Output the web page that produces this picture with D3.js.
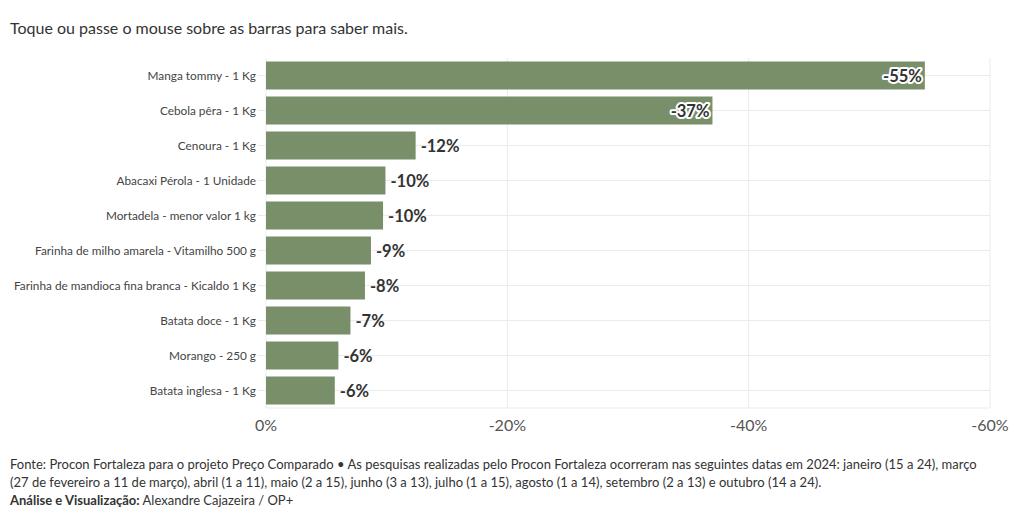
<!DOCTYPE html>
<html>
<head>
<meta charset="utf-8">
<script src="https://cdn.jsdelivr.net/npm/d3@7"></script>
<style>
  html, body { margin: 0; padding: 0; background: #fff; }
  svg { display: block; font-family: Lato, "Noto Sans", sans-serif; }
</style>
</head>
<body>
<svg id="chart" width="1020" height="520"></svg>
<script>
const categories = [
  "Manga tommy - 1 Kg",
  "Cebola pêra - 1 Kg",
  "Cenoura - 1 Kg",
  "Abacaxi Pérola - 1 Unidade",
  "Mortadela - menor valor 1 kg",
  "Farinha de milho amarela - Vitamilho 500 g",
  "Farinha de mandioca fina branca - Kicaldo 1 Kg",
  "Batata doce - 1 Kg",
  "Morango - 250 g",
  "Batata inglesa - 1 Kg"
];
const values = [-54.6, -37.0, -12.4, -9.9, -9.7, -8.7, -8.2, -7.0, -6.0, -5.7];
const tickValues = [0, -20, -40, -60];
const title = "Toque ou passe o mouse sobre as barras para saber mais.";
const footerLines = [
  "Fonte: Procon Fortaleza para o projeto Preço Comparado • As pesquisas realizadas pelo Procon Fortaleza ocorreram nas seguintes datas em 2024: janeiro (15 a 24), março",
  "(27 de fevereiro a 11 de março), abril (1 a 11), maio (2 a 15), junho (3 a 13), julho (1 a 15), agosto (1 a 14), setembro (2 a 13) e outubro (14 a 24)."
];
const creditBold = "Análise e Visualização:";
const creditText = " Alexandre Cajazeira / OP+";

(function () {
const svg = d3.select("#chart");
const mLeft = 266, mRight = 990, mTop = 58, mBottom = 408;

const x = d3.scaleLinear().domain([0, -60]).range([mLeft, mRight]);
const y = d3.scaleBand().domain(categories).range([mTop, mBottom]).paddingInner(0.2).paddingOuter(0.1);

svg.append("text").attr("x", 10).attr("y", 34)
  .attr("font-size", 16).attr("fill", "#333").text(title);

// gridlines
const grid = svg.append("g");
grid.selectAll("line.v").data(tickValues).join("line")
  .attr("x1", d => x(d)).attr("x2", d => x(d))
  .attr("y1", mTop).attr("y2", mBottom)
  .attr("stroke", "#ebebeb").attr("stroke-width", 1);
grid.selectAll("line.h").data(categories).join("line")
  .attr("x1", mLeft - 8).attr("x2", mRight)
  .attr("y1", d => y(d) + y.bandwidth() / 2).attr("y2", d => y(d) + y.bandwidth() / 2)
  .attr("stroke", "#ebebeb").attr("stroke-width", 1);
grid.append("line").attr("x1", mLeft).attr("x2", mRight).attr("y1", mBottom).attr("y2", mBottom)
  .attr("stroke", "#ebebeb");

// bars
svg.append("g").selectAll("rect").data(values).join("rect")
  .attr("x", x(0))
  .attr("y", (d, i) => y(categories[i]))
  .attr("width", d => x(d) - x(0))
  .attr("height", y.bandwidth())
  .attr("fill", "#798f69");

// category labels
svg.append("g").selectAll("text").data(categories).join("text")
  .attr("x", mLeft - 10)
  .attr("y", d => y(d) + y.bandwidth() / 2)
  .attr("dy", "0.35em")
  .attr("text-anchor", "end")
  .attr("font-size", 11.8)
  .attr("fill", "#444")
  .text(d => d);

// value labels
const fmt = d => Math.round(d) + "%";
const vl = svg.append("g");
values.forEach((d, i) => {
  const inside = d < -30;
  const t = vl.append("text")
    .attr("x", inside ? x(d) - 3 : x(d) + 5)
    .attr("y", y(categories[i]) + y.bandwidth() / 2 + 1)
    .attr("dy", "0.36em")
    .attr("text-anchor", inside ? "end" : "start")
    .attr("font-size", 16.5).attr("font-weight", "bold")
    .attr("fill", "#333")
    .text(fmt(d));
  if (inside) {
    t.attr("stroke", "#fff").attr("stroke-width", 4).attr("paint-order", "stroke").attr("stroke-linejoin", "round");
  }
});

// x axis labels
svg.append("g").selectAll("text").data(tickValues).join("text")
  .attr("x", d => x(d)).attr("y", 431)
  .attr("text-anchor", "middle")
  .attr("font-size", 16).attr("fill", "#555")
  .text(d => d + "%");

// footer
const foot = svg.append("g").attr("font-size", 13).attr("fill", "#333");
footerLines.forEach((l, i) => {
  foot.append("text").attr("x", 10).attr("y", 469 + i * 18).text(l);
});
const cr = foot.append("text").attr("x", 10).attr("y", 505);
cr.append("tspan").attr("font-weight", "bold").text(creditBold);
cr.append("tspan").text(creditText);
})();
</script>
</body>
</html>
